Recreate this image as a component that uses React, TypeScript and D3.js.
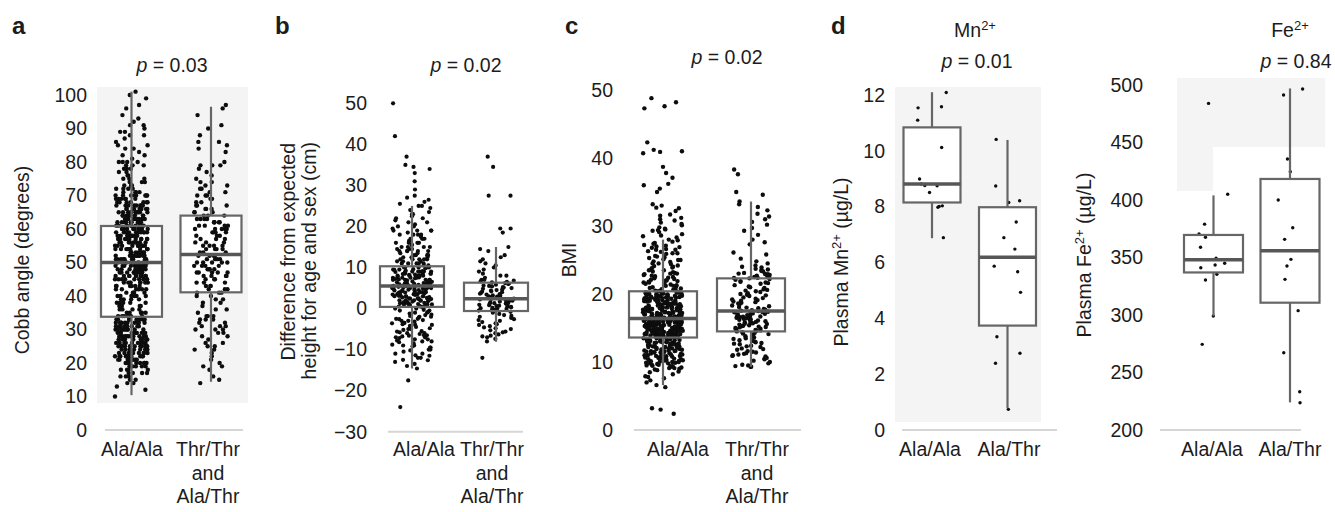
import React from "react";
import * as d3 from "d3";

const nums = (s: string) => s.trim().split(/\s+/).map(Number);

// ---- a: Cobb angle (degrees)
const cobbAlaAla = nums(`10 12 13 14 14 15 15 16 16 17 17 17 18 18 19 19 19 20 20 20 20 21 21 21 21 22 22 22 22 22 23 23 23 23 24 24 24 24 24
25 25 25 25 25 26 26 26 26 26 27 27 27 27 27 28 28 28 28 28 29 29 29 29 30 30 30 30 30 30 31 31 31 31 31 32 32 32 32 32 33 33 33 33
34 34 34 34 35 35 35 35 36 36 36 37 37 38 38 38 39 39 40 40 40 40 41 41 41 42 42 42 42 43 43 43 43 44 44 44 44 44 44
45 45 45 45 45 45 46 46 46 46 46 46 47 47 47 47 47 47 48 48 48 48 48 48 49 49 49 49 49 49 50 50 50 50 50 50 50 50 51 51 51 51 51
52 52 52 52 52 52 53 53 53 53 53 54 54 54 54 54 54 55 55 55 55 55 55 56 56 56 56 56 57 57 57 57 57 57 58 58 58 58 58 59 59 59 59 59 59
60 60 60 60 60 60 60 61 61 61 61 61 62 62 62 62 62 62 63 63 63 63 63 64 64 64 64 64 65 65 65 65 65 65 66 66 66 66 66 67 67 67 67 67
68 68 68 68 69 69 69 69 70 70 70 70 70 71 71 71 72 72 72 73 73 73 74 74 75 75 76 77 77 78 78 79 79 79 80 80 80 81 82 83 84 84
85 86 87 88 89 89 90 91 92 93 94 96 97 99 100 101
16 18 19 20 21 22 23 24 25 26 27 28 29 30 31 32 33 34 20 21 22 23 24 25 26 27 28 29 30 31 32 33 19 21 23 25 27 29 31 33 35
20 22 24 26 28 30 32 34 22 23 25 26 28 29 31 32 24 27 30 33 21 25 29 17 18 20 24 28 32 26 30 23 27 31 25 29 22 19 34
36 37 38 39 40 41 42 43 37 39 41 43 38 40 42
44 45 46 47 48 49 50 51 52 53 54 55 56 57 58 59 60 61 62 63 64 65 66 67 68 69 70 71 72
45 46 47 48 49 50 51 52 53 54 55 56 57 58 59 60 61 62 63 64 65 66 67 68 69 70
44 46 48 50 52 54 56 58 60 62 64 66 68 45 47 49 51 53 55 57 59 61 63 65 67 50 53 56 59 62 65 48 51 54 57 60 63 66
47 52 58 64 49 55 61 67 50 60 46 70 73 74 75 76 78 80 82 85 88 91`);
const cobbThr = nums(`14 15 16 18 19 19 20 21 22 23 24 24 25 25 26 26 27 28 28 29 29 30 30 30 31 31 31 32 32 33 33 33 34 34 34 35 36 36 37 38 38 39 39 40 40
41 41 41 42 42 42 43 43 43 44 44 44 45 45 45 46 46 46 46 47 47 47 47 47 48 48 48 48 49 49 49 49 50 50 50 50 50 51 51 51 51 52 52 52 52
53 53 53 54 54 54 54 55 55 55 55 56 56 56 57 57 57 58 58 58 59 59 59 59 60 60 60 60 60 61 61 61 61 62 62 62 62 62 63 63 63 63 64 64 64
65 65 65 66 66 66 67 67 67 68 68 69 69 70 70 70 71 71 72 72 73 73 74 74 75 76 77 78 79 79 79 80 83 84 85 86 86 88 90 91 94 96 97`);
const cobbBoxes = [[10.4, 33.8, 50, 60.9, 101], [14.4, 41.1, 52.4, 64, 96.5]];
const cobbTicks = [0, 10, 20, 30, 40, 50, 60, 70, 80, 90, 100];

// ---- b: difference from expected height (cm)
const heightAlaAla = nums(`50 42 37 35 34 34.5 33 31 29 27.5 27 26.5 26 25.5 25 25 24.5 24 23.5 23 23 22.5 22 21.5 21 21 20.5 20 20 22
19.5 19 19 18.5 18 18 17.5 17 17 16.5 16.5 16 16 15.5 15.5 15 15 19 18 17 16 15 14.5 14.5 14 14 14 13.5 13.5 13 13 13 12.5 12.5 12 12 12
11.5 11.5 11 11 11 10.5 10.5 10 10 10 14 13 12 11 10 9.5 9.5 9 9 9 9 8.5 8.5 8.5 8 8 8 8 7.5 7.5 7.5 7 7 7 7 6.5 6.5 6.5 6 6 6 6 5.5 5.5 5.5
9.8 9.2 8.8 8.2 7.8 7.2 6.8 6.2 5.8 9.6 9.1 8.7 8.3 7.9 7.4 6.9 6.4 6.1 5.7 9.4 8.9 8.4 7.6 7.1 6.6 6.3 5.9 5.6
5.2 5 5 4.8 4.5 4.5 4.2 4 4 3.8 3.5 3.5 3.2 3 3 2.8 2.5 2.5 2.2 2 2 1.8 1.5 1.5 1.2 1 1 0.8 0.5 0.5
5.3 5.1 4.9 4.6 4.3 4.1 3.9 3.6 3.3 3.1 2.9 2.6 2.3 2.1 1.9 1.6 1.3 1.1 0.9 0.6 5.4 4.7 4.4 3.7 3.4 2.7 2.4 1.7 1.4 0.7 0.4 5 4 3 2 1 0.5 2.5 3.5 4.5
0 -0.5 -1 -1.5 -2 -2.5 -3 -3.5 -4 -4.5 -5 -5.5 -6 -6.5 -7 -7.5 -8 -8.5 -9 -9.5 -10 -10.5 -11 -11.5 -12 -12.5 -13 -13.5 -14 -14.6
-0.3 -1.2 -2.2 -3.2 -4.2 -5.2 -6.2 -7.2 -8.2 -9.2 -10.2 -1.8 -2.8 -3.8 -4.8 -5.8 -6.8 -7.8 -8.8 -0.8 -1.6 -2.6 -3.6 -4.6 -5.6 -6.6 -11.4 -12.6 -17.5 -24
-12 -10 -8 -6 -4 -2 0 2 4 6 8 10 12 14 16 18 -11 -9 -7 -5 -3 -1 1 3 5 7 9 11 13 15 17 19
-9.5 -6.5 -3.5 -0.5 2.5 5.5 8.5 11.5 14.5 -7.5 -2.5 3.5 7.5 12.5`);
const heightThr = nums(`37 34.5 27.5 27.5 19.5 19.5 18.5 -12 15 14.5 14 13 12.5 12 11.5 11 10.5 10 9.5 9 8.5 8 8 7.5 7 7 6.8 6.6 6.5 6.4
6.2 6 5.8 5.6 5.4 5.2 5 4.8 4.6 4.4 4.2 4 3.8 3.6 3.4 3.2 3 2.8 2.6 2.5 5.5 4.5 3.5 2.7 6.1 5.1 4.1 3.1 2.9 2.4
2.3 2.2 2 1.9 1.8 1.6 1.5 1.4 1.2 1 0.9 0.8 0.6 0.5 0.4 0.2 0 -0.1 -0.2 -0.4 -0.5 -0.6 2.1 1.7 1.1 0.7 0.3 -0.3 1.3 0.1
-0.8 -1 -1.3 -1.6 -2 -2.3 -2.6 -3 -3.3 -3.6 -4 -4.3 -4.6 -5 -5.3 -5.6 -6 -6.3 -6.6 -7 -7.4 -8 -1.8 -2.8 -3.8 -4.8 -5.8 -6.8`);
const heightBoxes = [[-14.6, 0.4, 5.5, 10.3, 25], [-8.1, -0.6, 2.4, 6.3, 15]];
const heightTicks = [-30, -20, -10, 0, 10, 20, 30, 40, 50];

// ---- c: BMI
const bmiAlaAla = nums(`48.8 48.2 47.6 47.3 42.3 41.2 41 40.9 40.7 38.7 37.8 37.1 36.2 36 35.5 35 33.2 33 32.7 32.6 32.2 31.5 31.2 31 30.8
30.5 30.1 29.8 29.6 29.5 29.3 29.1 28.8 28.5 28.3
28 27.7 27.4 27.1 26.8 26.5 26.2 25.9 25.6 25.3 25 24.7 24.4 24.1 23.8 23.5 23.2 22.9 22.6 22.3 22 21.7 21.4 21.1 20.8 20.5
27.9 27.2 26.6 26 25.4 24.8 24.2 23.6 23 22.4 21.8 21.2 20.6 23.9 23.3 22.7 22.1 21.5 20.9 21.9 22.8 24.5 25.1 26.3 20.7 21.3 22.5 23.1 20.4
20.3 20.1 19.9 19.8 19.6 19.4 19.3 19.1 18.9 18.8 18.6 18.4 18.3 18.1 17.9 17.8 17.6 17.4 17.3 17.1 16.9 16.8 16.6 16.4
20.2 20 19.7 19.5 19.2 19 18.7 18.5 18.2 18 17.7 17.5 17.2 17 16.7 16.5 20.25 19.85 19.45 19.05 18.65 18.25 17.85 17.45 17.05 16.65
20.05 19.65 19.25 18.85 18.45 18.05 17.65 17.25 16.85 16.45 19.95 19.55 19.15 18.75 18.35 17.95 17.55 17.15 16.75
20.15 19.75 19.35 18.95 18.55 18.15 17.75 17.35 16.95 16.55 19.38 18.42 17.58 16.62 20.12 19.02 18.12 17.22 16.48 18.8 17.9
16.3 16.2 16.1 16 15.9 15.8 15.7 15.6 15.5 15.4 15.3 15.2 15.1 15 14.9 14.8 14.7 14.6 14.5 14.4 14.3 14.2 14.1 14 13.9 13.8 13.7 13.6
16.25 16.15 16.05 15.95 15.85 15.75 15.65 15.55 15.45 15.35 15.25 15.15 15.05 14.95 14.85 14.75 14.65 14.55 14.45 14.35 14.25 14.15 14.05 13.95 13.85 13.75 13.65
16.22 15.92 15.62 15.32 15.02 14.72 14.42 14.12 13.82 16.08 15.78 15.48 15.18 14.88 14.58 14.28 13.98 13.68
15.88 15.42 14.92 14.48 13.92 16.02 15.58 15.12 14.62 14.18 13.72 15.68 15.22 15.5 14.8 16.1 14.2
13.5 13.4 13.3 13.2 13.1 13 12.9 12.8 12.7 12.6 12.5 12.4 12.3 12.2 12.1 12 11.9 11.8 11.7 11.6 11.5 11.4 11.3 11.2 11.1 11
10.9 10.8 10.7 10.6 10.5 10.4 10.3 10.2 10.1 10 9.9 9.8 9.7 9.6 9.5 9.4 9.3 9.2 9.1 9
13.45 13.05 12.65 12.25 11.85 11.45 11.05 10.65 10.25 9.85 9.45 13.25 12.85 12.45 12.05 11.65 11.25 10.85 10.45 10.05
8.8 8.5 8.2 7.9 7.6 7.3 7.8 7 6.6 6.3 3.2 3 2.4
10 10.5 11 11.5 12 12.5 13 13.5 14 14.5 15 15.5 16 16.5 17 17.5 18 18.5 19 19.5 20 20.5 21 21.5 22 22.5 23 23.5 24 24.5 25 25.5 26 26.5 27
10.2 10.7 11.2 11.7 12.2 12.7 13.2 13.7 14.2 14.7 15.2 15.7 16.2 16.7 17.2 17.7 18.2 18.7 19.2 19.7 20.2 20.7 21.2 21.7 22.2
10.4 10.9 11.4 11.9 12.4 12.9 13.4 13.9 14.4 14.9 15.4 15.9 16.4 16.9 17.4 17.9 18.4 18.9 19.4 19.9
11.1 11.6 12.1 12.6 13.1 13.6 14.1 14.6 15.1 15.6 16.1 16.6 17.1 17.6 18.1 18.6 19.1 19.6
12.3 12.8 13.3 13.8 14.3 14.8 15.3 15.8 16.3 16.8 17.3 17.8 18.3 13.1 13.5 14 14.4 14.9 15.3 15.7 16.1 16.6 17
9.1 9.6 8.9 9.4 9.9 8.6 28.6 29.4 30.3 31.7 26.9 27.5`);
const bmiThr = nums(`38.3 37.6 35 34.6 33.6 33.2 32.8 32.3 31.8 31.4 31 30.6 30.2 29.7 29.3 28.7 28 27.3 26.1 25.8 24.5 24.2 23.9 23.7 23.5
23.3 23.1 23 22.9 22.8 22.7 22.6 22.5 22.4 24.8 25.2 23.4 22.95 23.6 24 22.35 27.6
22.3 22.1 21.9 21.7 21.5 21.3 21.1 20.9 20.7 20.5 20.3 20.1 19.9 19.7 19.5 19.3 19.1 18.9 18.7 18.5 18.3 18.1 17.9 17.7 17.5
22.2 21.6 21 20.4 19.8 19.2 18.6 18 17.6 21.8 20.6 19.4 18.2 17.8 20 19 18.8 17.55
17.4 17.3 17.2 17.1 17 16.9 16.8 16.7 16.6 16.5 16.4 16.3 16.2 16.1 16 15.9 15.8 15.7 15.6 15.5 15.4 15.3 15.2 15.1 15 14.9 14.8 14.7 14.6 14.5
17.35 16.85 16.35 15.85 15.35 14.85 17.15 16.65 16.15 15.65 15.15 14.65 16.45
14.4 14.2 14 13.8 13.6 13.4 13.2 13 12.8 12.6 12.4 12.2 12 11.8 11.6 11.4 11.2 11 10.8 10.6 10.4 10.2 10 9.8 9.6 9.3
14.3 13.5 12.7 11.9 11.1 10.5 9.5 14.1 12.9 11.5 10.9 9.4 13.1 12.3 11.3 9.3`);
const bmiBoxes = [[6.6, 13.6, 16.4, 20.4, 28], [9.3, 14.5, 17.5, 22.3, 33.6]];
const bmiTicks = [0, 10, 20, 30, 40, 50];

// ---- d: plasma Mn2+ and Fe2+ (µg/L)
const mnAlaAla = [12.09, 11.58, 11.54, 11.1, 10.12, 8.99, 8.76, 8.81, 8.75, 8.51, 8.01, 8.03, 7.98, 6.89];
const mnAlaThr = [10.41, 8.74, 8.21, 8.15, 7.45, 6.89, 6.48, 5.87, 5.67, 4.93, 3.34, 2.75, 2.39, 0.74];
const mnBoxes = [[6.87, 8.15, 8.81, 10.84, 12.1], [0.78, 3.74, 6.19, 7.98, 10.39]];
const mnTicks = [0, 2, 4, 6, 8, 10, 12];

const feAlaAla = [484, 405, 379, 367.6, 370.4, 358.9, 349.3, 345, 343.5, 341.1, 335.4, 330.4, 299.1, 274.5];
const feAlaThr = [496.5, 491.3, 435.7, 424.6, 400, 375.9, 365.8, 348.4, 342.6, 331, 303.8, 267.2, 233.3, 223.7];
const feBoxes = [[299, 337, 348, 369.6, 404], [224, 310.7, 355.9, 418.3, 497]];
const feTicks = [200, 250, 300, 350, 400, 450, 500];

const catsGeno = [["Ala/Ala"], ["Thr/Thr", "and", "Ala/Thr"]];
const catsMetal = [["Ala/Ala"], ["Ala/Thr"]];

const FONT = "'Liberation Sans', Arial, Helvetica, sans-serif";
const TXT = "#1c1c1c";
const BOX = "#666";

// deterministic horizontal jitter
const jit = (i: number, k: number) => {
  const s = Math.sin(i * 12.9898 + k * 78.233) * 43758.5453;
  return s - Math.floor(s) - 0.5;
};

const sup = (base: string, s: string, rest = "") => (
  <>
    {base}
    <tspan dy={-7} fontSize={13}>{s}</tspan>
    <tspan dy={7}>{rest}</tspan>
  </>
);

const pText = (v: string) => (
  <>
    <tspan fontStyle="italic">p</tspan> = {v}
  </>
);

const panels = [
  {
    id: "a", letterX: 12, values: [cobbAlaAla, cobbThr], boxes: cobbBoxes, ticks: cobbTicks,
    domain: [0, 100], range: [430, 95], centers: [131.5, 211], boxW: 61, jitW: [33, 34], r: 2.2,
    tickX: 87, base: [105, 243], labelX: [132, 208], cats: catsGeno,
    bg: [[97, 87, 151, 316]], heads: [{ x: 172, y: 72, t: pText("0.03") }],
    yLab: [{ x: 29, y: 260, anchor: "middle", t: "Cobb angle (degrees)" }],
  },
  {
    id: "b", letterX: 275, values: [heightAlaAla, heightThr], boxes: heightBoxes, ticks: heightTicks,
    domain: [-30, 50], range: [431.7, 103.3], centers: [412, 496], boxW: 64, jitW: [40, 36], r: 2.1,
    tickX: 367, base: [388, 523], labelX: [424, 492], cats: catsGeno,
    bg: [], heads: [{ x: 466, y: 72, t: pText("0.02") }],
    yLab: [
      { x: 295, y: 143, anchor: "end", t: "Difference from expected" },
      { x: 316, y: 142, anchor: "end", t: "height for age and sex (cm)" },
    ],
  },
  {
    id: "c", letterX: 565, values: [bmiAlaAla, bmiThr], boxes: bmiBoxes, ticks: bmiTicks,
    domain: [0, 50], range: [430, 90], centers: [663, 751], boxW: 68, jitW: [40, 38], r: 2.2,
    tickX: 613, base: [634, 801], labelX: [678, 757], cats: catsGeno,
    bg: [], heads: [{ x: 727, y: 64, t: pText("0.02") }],
    yLab: [{ x: 576, y: 260, anchor: "middle", t: "BMI" }],
  },
  {
    id: "d", letterX: 831, values: [mnAlaAla, mnAlaThr], boxes: mnBoxes, ticks: mnTicks,
    domain: [0, 12], range: [430, 95], centers: [932, 1007.5], boxW: 57, jitW: [30, 30], r: 1.7,
    tickX: 885, base: [902, 1057], labelX: [930, 1009], cats: catsMetal,
    bg: [[895, 87, 146, 335]],
    heads: [{ x: 975, y: 37, t: sup("Mn", "2+") }, { x: 977, y: 68, t: pText("0.01") }],
    yLab: [{ x: 848, y: 262, anchor: "middle", t: sup("Plasma Mn", "2+", " (µg/L)") }],
  },
  {
    id: "", letterX: 0, values: [feAlaAla, feAlaThr], boxes: feBoxes, ticks: feTicks,
    domain: [200, 500], range: [430, 85], centers: [1213.5, 1290], boxW: 59, jitW: [30, 30], r: 1.7,
    tickX: 1143, base: [1160, 1301], labelX: [1212, 1290], cats: catsMetal,
    bg: [[1177, 78, 148, 69], [1177, 147, 36, 44]],
    heads: [{ x: 1290, y: 37, t: sup("Fe", "2+") }, { x: 1296, y: 68, t: pText("0.84") }],
    yLab: [{ x: 1091, y: 255, anchor: "middle", t: sup("Plasma Fe", "2+", " (µg/L)") }],
  },
];

function Panel({ p, k }: { p: any; k: number }) {
  const y = d3.scaleLinear().domain(p.domain).range(p.range);
  const x = d3.scalePoint<number>().domain([0, 1]).range(p.centers);
  const fmt = (v: number) => String(v).replace("-", "\u2212");
  return (
    <g>
      {p.bg.map((b: number[], i: number) => (
        <rect key={i} x={b[0]} y={b[1]} width={b[2]} height={b[3]} fill="#f4f4f4" />
      ))}
      {p.id && (
        <text x={p.letterX} y={33.5} fontSize={24} fontWeight="bold" fill={TXT}>{p.id}</text>
      )}
      {p.heads.map((h: any, i: number) => (
        <text key={i} x={h.x} y={h.y} textAnchor="middle" fontSize={19.5} fill={TXT}>{h.t}</text>
      ))}
      {p.yLab.map((l: any, i: number) => (
        <text key={i} transform={`translate(${l.x},${l.y}) rotate(-90)`} textAnchor={l.anchor}
          fontSize={19.5} fill={TXT}>{l.t}</text>
      ))}
      {p.ticks.map((t: number) => (
        <text key={t} x={p.tickX} y={y(t)} dy="0.35em" textAnchor="end" fontSize={19.5} fill={TXT}>{fmt(t)}</text>
      ))}
      <line x1={p.base[0]} x2={p.base[1]} y1={y(p.domain[0])} y2={y(p.domain[0])} stroke="#d6d6d6" strokeWidth={2} />
      {p.cats.map((lines: string[], ci: number) => (
        <text key={ci} x={p.labelX[ci]} y={456} textAnchor="middle" fontSize={19.5} fill={TXT}>
          {lines.map((s, li) => (
            <tspan key={li} x={p.labelX[ci]} dy={li === 0 ? 0 : 23.5}>{s}</tspan>
          ))}
        </text>
      ))}
      {p.boxes.map((b: number[], gi: number) => {
        const cx = x(gi) as number;
        return (
          <rect key={"f" + gi} x={cx - p.boxW / 2} y={y(b[3])} width={p.boxW} height={y(b[1]) - y(b[3])} fill="#fff" />
        );
      })}
      {p.values.map((vals: number[], gi: number) => {
        const cx = x(gi) as number;
        return vals.map((v, i) => (
          <circle key={gi + "-" + i} cx={cx + jit(i, gi + k * 2) * p.jitW[gi]} cy={y(v)} r={p.r} fill="#0d0d0d" />
        ));
      })}
      {p.boxes.map((b: number[], gi: number) => {
        const cx = x(gi) as number;
        return (
          <g key={"b" + gi}>
            <line x1={cx} x2={cx} y1={y(b[4])} y2={y(b[3])} stroke={BOX} strokeWidth={2.2} />
            <line x1={cx} x2={cx} y1={y(b[1])} y2={y(b[0])} stroke={BOX} strokeWidth={2.2} />
            <rect x={cx - p.boxW / 2} y={y(b[3])} width={p.boxW} height={y(b[1]) - y(b[3])}
              fill="none" stroke={BOX} strokeWidth={2.2} />
            <line x1={cx - p.boxW / 2} x2={cx + p.boxW / 2} y1={y(b[2])} y2={y(b[2])} stroke="#575757" strokeWidth={3.5} />
          </g>
        );
      })}
    </g>
  );
}

export default function App() {
  return (
    <svg width={1335} height={512} style={{ position: "absolute", left: 0, top: 0, background: "#fff" }}
      fontFamily={FONT}>
      <rect width={1335} height={512} fill="#fff" />
      {panels.map((p, k) => <Panel key={k} p={p} k={k} />)}
    </svg>
  );
}
